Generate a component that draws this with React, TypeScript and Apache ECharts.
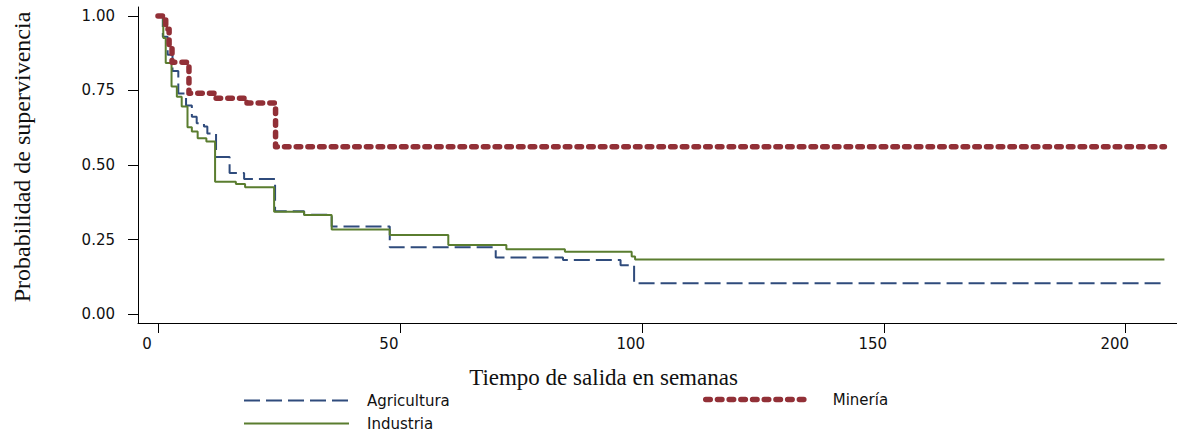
import React, { useEffect, useRef } from "react";
import * as echarts from "echarts";

// Kaplan-Meier step data (weeks, survival probability)
const weeksAgricultura = [0, 1.0, 2.0, 3.0, 4.2, 5.8, 7.0, 8.0, 9.5, 10.2, 12.0, 14.8, 17.8, 24.2, 30.2, 35.9, 47.9, 69.8, 83.7, 95.6, 98.4, 208];
const survAgricultura = [1.0, 0.93, 0.87, 0.815, 0.74, 0.7, 0.662, 0.64, 0.629, 0.606, 0.527, 0.473, 0.453, 0.345, 0.333, 0.294, 0.224, 0.19, 0.181, 0.164, 0.103, 0.103];

const weeksIndustria = [0, 1.1, 1.6, 2.8, 3.9, 4.9, 6.1, 7.0, 8.2, 10.0, 11.8, 16.1, 18.0, 24.0, 30.2, 35.9, 47.9, 60.0, 72.0, 84.1, 97.9, 98.6, 208];
const survIndustria = [1.0, 0.926, 0.842, 0.763, 0.729, 0.696, 0.627, 0.612, 0.59, 0.579, 0.444, 0.436, 0.425, 0.343, 0.332, 0.284, 0.265, 0.232, 0.217, 0.209, 0.193, 0.183, 0.183];

const weeksMineria = [0, 1.6, 2.3, 2.9, 6.4, 12.0, 18.4, 24.3, 208];
const survMineria = [1.0, 0.955, 0.9, 0.845, 0.741, 0.724, 0.708, 0.561, 0.561];

const xTicks = [0, 50, 100, 150, 200];
const yTicks = [0, 0.25, 0.5, 0.75, 1.0];

const zip = (xs: number[], ys: number[]) => xs.map((x, i) => [x, ys[i]]);

export default function App() {
  const ref = useRef<HTMLDivElement>(null);
  useEffect(() => {
    if (!ref.current) return;
    const chart = echarts.init(ref.current, null, { renderer: "svg" });
    const tickFont = { fontFamily: "DejaVu Sans", fontSize: 15, color: "#111" };
    const legendBase = {
      orient: "vertical",
      padding: 0,
      itemWidth: 105,
      itemHeight: 14,
      itemGap: 8,
      itemStyle: { opacity: 0 },
    };
    chart.setOption({
      animation: false,
      backgroundColor: "#fff",
      grid: { left: 138, right: 0, top: 7, bottom: 112, containLabel: false },
      xAxis: {
        type: "value",
        min: -4.13,
        max: 210.6,
        name: "Tiempo de salida en semanas",
        nameLocation: "middle",
        nameGap: 43,
        nameTextStyle: { fontFamily: "Liberation Serif", fontSize: 23, color: "#111", padding: [0, 108, 0, 0] },
        axisLine: { show: true, onZero: false, lineStyle: { color: "#000", width: 1 } },
        axisTick: { show: true, length: 10, customValues: xTicks, lineStyle: { color: "#000" } },
        axisLabel: { ...tickFont, margin: 13, customValues: xTicks, padding: [0, 22, 0, 0], formatter: (v: number) => String(v) },
        splitLine: { show: false },
      },
      yAxis: {
        type: "value",
        min: -0.03,
        max: 1.03,
        name: "Probabilidad de supervivencia",
        nameLocation: "middle",
        nameRotate: 90,
        nameGap: 104,
        nameTextStyle: { fontFamily: "Liberation Serif", fontSize: 24, color: "#111", padding: [0, 0, 0, 16] },
        axisLine: { show: true, onZero: false, lineStyle: { color: "#000", width: 1 } },
        axisTick: { show: true, length: 10, customValues: yTicks, lineStyle: { color: "#000" } },
        axisLabel: { ...tickFont, margin: 23, customValues: yTicks, formatter: (v: number) => v.toFixed(2) },
        splitLine: { show: false },
      },
      legend: [
        {
          ...legendBase,
          data: ["Agricultura", "Industria"],
          left: 243,
          top: 393,
          height: 42,
          lineStyle: { width: 2 },
          textStyle: { fontFamily: "DejaVu Sans", fontSize: 15, color: "#111", padding: [0, 0, 0, 13] },
        },
        {
          ...legendBase,
          data: ["Minería"],
          left: 703,
          top: 392,
          lineStyle: { width: 5.5, cap: "round" },
          textStyle: { fontFamily: "DejaVu Sans", fontSize: 15, color: "#111", padding: [0, 0, 0, 17] },
        },
      ],
      series: [
        {
          name: "Agricultura",
          type: "line",
          step: "end",
          symbol: "none",
          data: zip(weeksAgricultura, survAgricultura),
          lineStyle: { color: "#2f4b7c", width: 2, type: [16, 6] },
          itemStyle: { color: "#2f4b7c" },
          z: 2,
        },
        {
          name: "Industria",
          type: "line",
          step: "end",
          symbol: "none",
          data: zip(weeksIndustria, survIndustria),
          lineStyle: { color: "#5a7d2f", width: 2, type: "solid" },
          itemStyle: { color: "#5a7d2f" },
          z: 3,
        },
        {
          name: "Minería",
          type: "line",
          step: "end",
          symbol: "none",
          data: zip(weeksMineria, survMineria),
          lineStyle: { color: "#923037", width: 5.5, type: [4.5, 7.2], cap: "round", join: "round" },
          itemStyle: { color: "#923037" },
          z: 4,
        },
      ],
    });
    return () => chart.dispose();
  }, []);
  return <div ref={ref} style={{ position: "absolute", left: 0, top: 0, width: 1177, height: 435 }} />;
}
